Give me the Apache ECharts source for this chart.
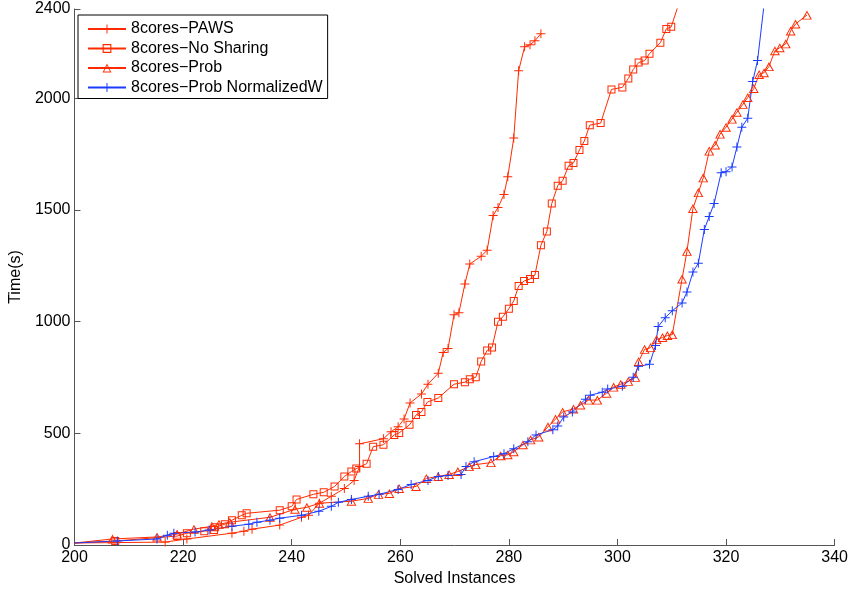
<!DOCTYPE html>
<html>
<head>
<meta charset="utf-8">
<script src="https://cdn.jsdelivr.net/npm/echarts@6/dist/echarts.min.js"></script>
<style>html,body{margin:0;padding:0;background:#fff}#c{width:851px;height:592px}</style>
</head>
<body>
<div id="c"></div>
<script>
var seriesNames = ['8cores\u2212PAWS', '8cores\u2212No Sharing', '8cores\u2212Prob', '8cores\u2212Prob NormalizedW'];
var xTicks = [200, 220, 240, 260, 280, 300, 320, 340];
var yTicks = [0, 500, 1000, 1500, 2000, 2400];

var pawsX = [200, 216.7, 220.7, 229.0, 231.2, 232.7, 237.8, 241.8, 243.1, 245.1, 247.3, 249.7, 251.5, 252.5, 252.5, 256.9, 258.3, 259.6, 260.7, 261.8, 263.9, 265.1, 267.0, 267.9, 268.8, 269.9, 270.8, 271.9, 272.8, 274.9, 276.0, 277.1, 278.0, 279.1, 279.8, 280.9, 281.8, 282.9, 283.9, 284.8, 285.9];
var pawsY = [9, 13, 27, 53, 62, 71, 89, 124, 133, 187, 218, 253, 289, 351, 453, 476, 507, 529, 564, 636, 676, 720, 769, 862, 880, 1031, 1040, 1169, 1258, 1293, 1320, 1475, 1511, 1569, 1649, 1822, 2124, 2231, 2240, 2258, 2289];

var noShareX = [200, 207.5, 218.9, 220.7, 223.9, 225.7, 225.9, 227.7, 229.0, 230.8, 231.7, 237.8, 240.0, 240.9, 244.0, 245.9, 247.9, 249.7, 251.0, 251.9, 253.8, 255.0, 256.9, 258.9, 259.8, 261.7, 262.9, 263.9, 265.0, 267.0, 269.9, 271.9, 272.8, 273.9, 274.9, 276.0, 276.9, 278.0, 278.9, 280.0, 280.9, 281.8, 282.8, 283.9, 284.8, 285.9, 287.0, 287.9, 289.0, 289.9, 291.0, 291.9, 293.0, 293.9, 294.9, 296.9, 298.9, 300.9, 302.0, 302.9, 303.9, 305.0, 305.9, 307.9, 309.0, 309.9, 311.7];
var noShareY = [9, 18, 40, 53, 62, 67, 80, 93, 111, 133, 142, 156, 173, 204, 227, 236, 262, 307, 329, 342, 364, 440, 449, 493, 502, 538, 582, 596, 640, 658, 720, 729, 742, 751, 822, 871, 884, 1000, 1022, 1058, 1093, 1160, 1182, 1191, 1209, 1342, 1404, 1529, 1609, 1631, 1698, 1711, 1769, 1809, 1880, 1889, 2040, 2049, 2089, 2129, 2160, 2169, 2200, 2249, 2311, 2320, 2453];

var probX = [200, 207.0, 215.2, 218.9, 222.0, 225.3, 226.6, 228.6, 236.0, 240.6, 242.8, 245.1, 251.0, 254.1, 256.0, 258.0, 259.8, 262.9, 264.8, 267.0, 269.0, 270.6, 272.7, 273.9, 276.7, 278.5, 279.8, 280.9, 282.6, 284.0, 285.5, 287.2, 288.6, 289.9, 291.9, 293.2, 294.7, 296.3, 298.0, 299.3, 300.6, 302.0, 303.3, 303.9, 305.0, 306.1, 307.2, 308.3, 309.2, 310.1, 311.9, 312.8, 313.9, 314.9, 315.8, 316.9, 318.0, 318.9, 320.0, 321.1, 322.0, 323.1, 324.0, 325.1, 326.1, 327.0, 327.9, 329.0, 329.9, 331.0, 331.9, 332.8, 334.9];
var probY = [9, 27, 36, 49, 71, 84, 93, 102, 124, 160, 169, 187, 196, 209, 227, 231, 253, 262, 298, 307, 316, 329, 351, 360, 369, 400, 404, 418, 449, 471, 484, 529, 564, 596, 609, 627, 649, 649, 680, 707, 720, 733, 751, 822, 876, 884, 920, 929, 938, 942, 1191, 1315, 1507, 1578, 1644, 1764, 1791, 1840, 1871, 1907, 1938, 1973, 2004, 2044, 2107, 2115, 2142, 2213, 2227, 2244, 2302, 2333, 2373];

var normX = [200, 207.9, 215.2, 217.1, 218.3, 222.2, 224.8, 229.0, 232.1, 233.6, 236.0, 237.8, 241.8, 245.0, 247.3, 248.6, 251.0, 254.1, 256.1, 259.6, 262.0, 265.1, 267.0, 268.8, 271.2, 272.1, 273.6, 277.2, 279.1, 280.9, 283.5, 285.0, 288.1, 289.0, 290.1, 291.7, 294.1, 295.0, 297.2, 298.2, 300.9, 302.9, 303.9, 305.9, 307.0, 307.5, 308.8, 310.1, 311.9, 312.8, 313.9, 314.9, 316.0, 316.9, 317.8, 319.1, 320.0, 321.1, 322.0, 322.9, 324.0, 324.9, 325.8, 327.2];
var normY = [9, 18, 27, 44, 53, 58, 67, 84, 93, 102, 111, 120, 133, 151, 173, 191, 204, 218, 227, 249, 271, 289, 307, 311, 316, 351, 373, 396, 409, 431, 462, 493, 516, 533, 573, 596, 653, 671, 684, 698, 711, 751, 800, 809, 893, 978, 1018, 1049, 1084, 1133, 1222, 1262, 1413, 1471, 1529, 1667, 1671, 1693, 1782, 1871, 1911, 2075, 2169, 2462];

function zip(xs, ys) {
  return xs.map(function (x, i) {
    return i === 0 ? { value: [x, ys[i]], symbol: 'none' } : [x, ys[i]];
  });
}

var RED = '#ff2a00';
var BLUE = '#1a3cff';
var plusSym = 'path://M-0.11,-1H0.11V-0.11H1V0.11H0.11V1H-0.11V0.11H-1V-0.11H-0.11Z';
var squareSym = 'path://M-1,-1H1V1H-1Z M-0.75,-0.75V0.75H0.75V-0.75Z';
var triSym = 'path://M0,-1L1,1L-1,1Z M0,-0.553L-0.676,0.8L0.676,0.8Z';

function mk(name, data, color, sym, size) {
  return {
    name: name, type: 'line', data: data,
    symbol: sym, symbolSize: size, showSymbol: true, showAllSymbol: true,
    lineStyle: { color: color, width: 1 },
    itemStyle: { color: color },
    emphasis: { disabled: true },
    clip: true, z: 2
  };
}

var chart = echarts.init(document.getElementById('c'), null, { renderer: 'canvas' });
var axisColor = '#555';
var FONT = 'Liberation Sans, Arial, Helvetica, sans-serif';
chart.setOption({
  animation: false,
  backgroundColor: '#fff',
  textStyle: { fontFamily: FONT },
  grid: { left: 72, right: 16, top: 9, bottom: 43, containLabel: false },
  legend: {
    orient: 'vertical', left: 78, top: 15,
    data: seriesNames,
    itemWidth: 38, itemHeight: 11, itemGap: 3.5,
    padding: [6, 5, 3, 9],
    borderColor: '#000', borderWidth: 1, backgroundColor: '#fff',
    textStyle: { fontSize: 16, color: '#000', fontFamily: FONT, lineHeight: 16 },
    selectedMode: false
  },
  xAxis: {
    type: 'value', min: 200, max: 340, interval: 20,
    name: 'Solved Instances', nameLocation: 'middle', nameGap: 26,
    nameTextStyle: { fontSize: 16, color: '#000', fontFamily: FONT },
    axisLine: { show: true, lineStyle: { color: axisColor, width: 1 } },
    axisTick: { show: true, inside: true, length: 6, lineStyle: { color: axisColor } },
    axisLabel: { fontSize: 16, color: '#000', margin: 5, fontFamily: FONT,
      formatter: function (v) { return xTicks.indexOf(v) >= 0 ? String(v) : ''; } },
    splitLine: { show: false }
  },
  yAxis: {
    type: 'value', min: 0, max: 2400, interval: 500,
    name: 'Time(s)', nameLocation: 'middle', nameGap: 43,
    nameTextStyle: { fontSize: 16, color: '#000', fontFamily: FONT },
    axisLine: { show: true, lineStyle: { color: axisColor, width: 1 } },
    axisTick: { show: true, inside: true, length: 6, lineStyle: { color: axisColor } },
    axisLabel: { fontSize: 16, color: '#000', margin: 4, fontFamily: FONT, showMaxLabel: true,
      formatter: function (v) { return yTicks.indexOf(v) >= 0 ? String(v) : ''; } },
    splitLine: { show: false }
  },
  series: [
    mk(seriesNames[0], zip(pawsX, pawsY), RED, plusSym, 9),
    mk(seriesNames[1], zip(noShareX, noShareY), RED, squareSym, 8),
    mk(seriesNames[2], zip(probX, probY), RED, triSym, [10, 9]),
    mk(seriesNames[3], zip(normX, normY), BLUE, plusSym, 9)
  ]
});
</script>
</body>
</html>
